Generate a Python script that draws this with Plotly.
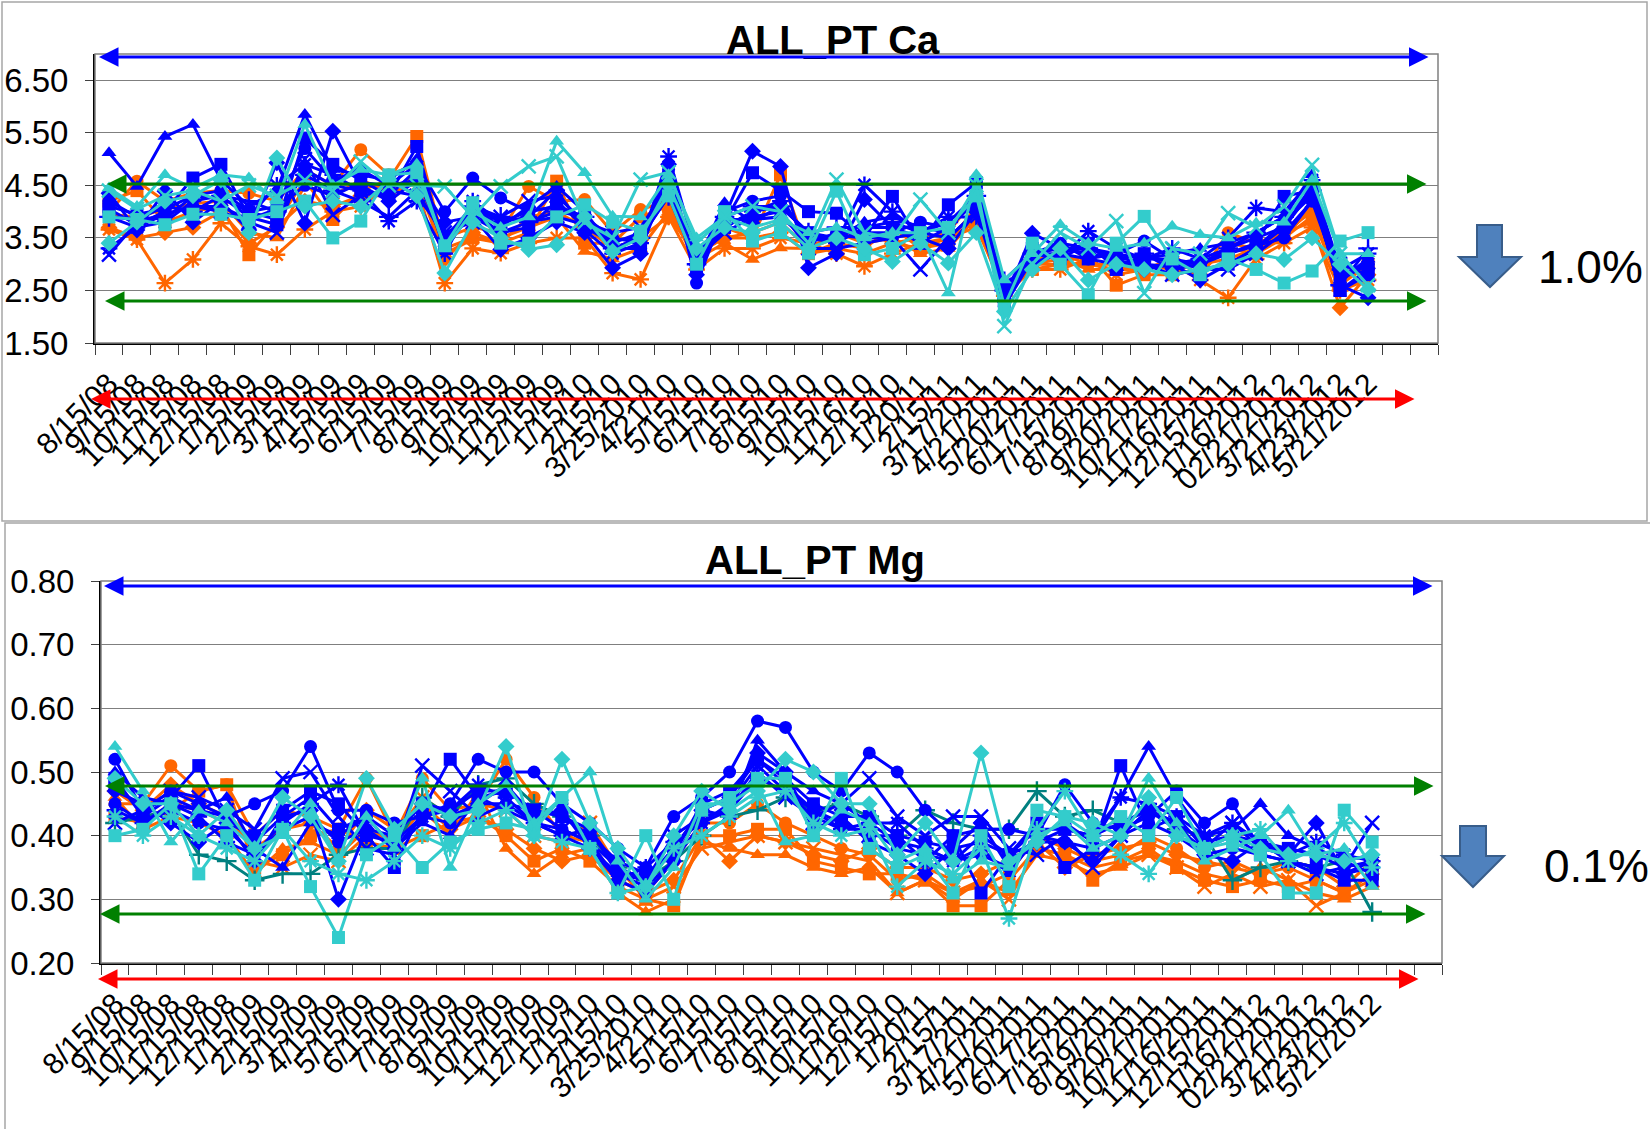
import plotly.graph_objects as go

W, H = 1650, 1129

dates = ["8/15/08", "9/15/08", "10/15/08", "11/15/08", "12/15/08",
         "1/15/09", "2/15/09", "3/15/09", "4/15/09", "5/15/09", "6/15/09",
         "7/15/09", "8/15/09", "9/15/09", "10/15/09", "11/15/09", "12/15/09",
         "1/15/10", "2/15/10", "3/25/2010", "4/21/10", "5/15/10", "6/15/10",
         "7/15/10", "8/15/10", "9/15/10", "10/15/10", "11/16/10", "12/15/10",
         "1/20/11", "2/15/11", "3/17/2011", "4/21/2011", "5/20/2011",
         "6/17/2011", "7/15/2011", "8/19/2011", "9/20/2011", "10/21/2011",
         "11/16/2011", "12/15/2011", "1/16/2012", "02/21/2012", "3/21/2012",
         "4/23/2012", "5/21/2012"]

ca_ticks = [1.5, 2.5, 3.5, 4.5, 5.5, 6.5]
mg_ticks = [0.2, 0.3, 0.4, 0.5, 0.6, 0.7, 0.8]

# ---------------- Ca series ----------------
ca_b_tri = [5.12,4.48,5.43,5.66,4.6,4.1,4.4,5.85,4.8,4.7,4.6,5.0,3.4,4.1,3.7,4.1,4.48,4.0,3.3,3.5,4.5,3.0,4.17,3.8,4.1,3.6,3.5,3.8,3.9,3.7,3.6,4.4,2.4,3.2,3.4,3.3,3.2,3.1,3.2,3.3,3.4,3.6,3.9,4.7,2.7,3.1]
ca_b_sq = [4.05,3.75,4.0,4.64,4.9,3.9,3.75,5.4,4.9,4.6,4.3,5.24,3.3,4.0,3.6,3.7,4.2,3.7,3.4,3.6,4.6,2.9,3.8,4.74,4.4,4.0,3.97,3.5,4.29,3.4,4.13,4.55,2.5,3.3,3.1,3.4,2.9,3.2,2.9,3.0,3.2,3.4,4.29,4.4,2.5,2.9]
ca_b_dia = [4.35,3.65,4.39,3.8,4.2,3.65,4.93,3.78,5.53,4.5,4.2,4.6,3.8,3.9,3.28,3.5,3.8,3.6,2.93,3.2,4.9,2.8,3.9,5.15,4.86,2.93,3.2,4.23,3.7,3.5,3.3,4.0,2.3,3.59,3.3,3.2,3.1,2.9,3.0,2.7,3.0,3.3,3.8,4.3,2.6,2.36]
ca_b_circ = [4.2,3.9,3.85,4.3,4.4,4.0,4.1,5.2,4.6,4.8,4.5,4.9,4.0,4.64,4.26,4.0,4.1,3.9,3.5,3.4,4.8,2.64,4.0,4.2,4.3,3.4,3.6,3.6,3.6,3.8,3.7,4.2,2.2,3.1,3.4,3.1,3.2,3.44,3.1,3.0,3.3,3.5,3.7,4.5,2.8,3.0]
ca_b_x = [3.18,3.8,3.95,4.1,4.0,3.8,3.6,5.0,3.94,4.3,4.4,4.3,3.6,3.8,3.9,4.2,4.3,3.8,3.6,3.7,4.5,3.1,3.6,3.9,4.0,3.3,3.3,3.4,3.5,2.9,3.5,4.0,2.6,3.0,3.2,3.4,3.0,3.0,2.8,2.9,2.9,3.2,3.6,4.2,3.0,2.8]
ca_b_star = [3.3,3.7,3.8,4.2,4.3,3.9,4.5,4.9,4.7,4.4,3.82,4.2,3.2,4.2,3.8,3.9,4.4,3.65,3.2,3.4,5.05,3.2,3.7,4.0,4.2,3.5,3.4,4.51,4.0,3.6,3.9,3.9,2.7,3.2,3.1,3.63,3.3,3.1,3.3,3.1,3.5,4.07,4.0,4.6,2.9,3.2]
ca_b_plus = [3.9,3.85,4.1,4.0,4.3,4.2,4.0,4.7,4.4,4.2,3.9,4.4,3.5,4.1,3.9,3.8,4.0,3.9,3.3,3.5,4.3,3.0,3.9,4.1,4.1,3.6,3.7,3.7,3.8,3.6,3.8,4.3,2.5,3.2,3.3,3.3,3.1,3.2,3.0,3.1,3.3,3.6,3.9,4.4,2.6,3.3]
ca_b_e1 = [4.1,3.95,4.05,4.3,4.25,4.0,3.85,4.8,4.5,4.4,4.3,4.8,3.3,4.1,3.8,4.0,4.1,3.9,3.3,3.3,4.6,3.0,3.7,4.0,4.1,3.6,3.4,3.7,3.7,3.4,3.7,4.2,2.3,3.2,3.2,3.1,3.0,3.1,3.1,2.9,3.0,3.3,3.7,4.4,2.5,2.8]
ca_b_e2 = [3.9,3.7,3.95,4.1,4.1,3.85,4.05,4.5,4.3,4.55,4.5,4.6,3.5,3.9,3.6,3.8,3.9,3.75,3.45,3.5,4.3,3.2,3.85,3.85,3.9,3.45,3.55,3.5,3.5,3.6,3.5,4.0,2.5,3.0,3.25,3.3,3.15,3.0,2.95,3.05,3.2,3.35,3.5,4.2,2.7,3.0]
ca_o_circ = [4.0,4.58,4.2,4.35,4.4,4.35,4.2,4.8,4.5,5.18,4.7,4.9,3.5,3.7,3.6,4.48,4.2,4.23,3.6,4.04,4.2,3.2,3.5,3.6,3.8,3.3,3.5,3.6,3.4,3.5,3.6,4.3,2.5,3.1,3.2,3.0,3.0,3.0,2.9,2.8,3.6,3.4,3.6,4.0,2.7,2.9]
ca_o_sq = [4.2,4.4,3.8,4.0,4.1,3.18,3.8,4.6,3.85,4.4,4.6,5.43,3.3,3.5,3.4,3.6,4.58,3.4,3.4,3.9,4.1,3.0,3.7,3.5,4.7,3.2,3.4,3.3,3.7,3.3,3.4,4.1,2.6,2.9,3.0,3.2,2.6,2.8,2.8,2.9,3.3,3.2,3.5,3.91,2.6,3.0]
ca_o_x = [3.66,3.47,2.64,3.09,3.78,3.34,3.18,3.66,4.0,4.1,4.5,4.5,2.64,3.3,3.21,3.4,3.5,3.5,2.83,2.71,3.9,2.9,3.3,3.3,3.5,3.4,3.2,2.96,3.2,3.4,3.5,3.8,2.4,2.9,2.9,3.1,2.8,2.9,3.0,2.7,2.36,3.1,3.4,3.7,2.5,2.7]
ca_o_tri = [3.95,3.9,4.05,4.15,4.2,3.6,3.5,4.5,4.3,4.6,4.4,4.7,3.2,3.47,3.5,3.7,3.9,3.24,3.1,3.3,4.0,3.1,3.4,3.09,3.31,3.3,3.6,3.4,3.5,3.2,3.3,3.9,2.6,3.0,3.1,2.9,2.9,3.0,2.9,3.0,3.1,3.3,3.5,4.1,2.8,3.0]
ca_o_dia = [3.7,3.5,3.6,3.7,4.0,3.4,3.7,4.2,4.1,4.3,4.3,4.6,3.1,3.6,3.4,3.9,4.0,3.7,3.3,3.5,3.9,3.2,3.5,3.5,3.6,3.2,3.3,3.2,3.4,3.3,3.5,3.7,2.5,3.0,3.0,3.0,2.9,2.9,3.1,2.8,3.4,3.3,3.6,3.8,2.17,2.8]
ca_c_tri = [4.45,4.1,4.7,4.45,4.7,4.64,4.2,5.66,4.5,4.8,4.7,4.9,3.3,4.0,3.7,3.9,5.34,4.74,3.91,3.9,4.7,3.5,3.9,3.7,3.85,3.6,3.7,3.5,3.6,3.6,2.45,4.7,2.7,3.2,3.75,3.4,3.3,3.4,3.72,3.56,3.5,3.78,3.8,4.6,3.2,3.2]
ca_c_sq = [3.9,3.85,3.75,3.95,3.95,3.85,4.0,4.2,3.5,3.82,4.7,4.74,3.35,4.17,3.4,3.4,3.9,4.13,3.8,3.63,4.3,3.0,4.0,3.44,3.6,3.21,4.39,3.18,3.3,3.6,3.7,4.3,2.2,3.4,3.0,2.42,3.4,3.91,3.1,2.8,3.1,2.9,2.64,2.87,3.44,3.6]
ca_c_dia = [3.4,3.8,4.2,4.3,4.6,3.6,5.02,4.1,4.2,4.1,4.6,4.3,2.83,3.8,3.5,3.28,3.37,3.9,3.24,3.5,4.5,3.3,3.7,3.6,3.8,3.3,3.5,3.3,3.05,3.4,3.02,3.6,2.1,2.9,3.3,2.7,3.0,2.9,2.8,2.9,3.0,3.2,3.09,3.5,3.0,2.52]
ca_c_x = [4.4,4.05,4.3,4.4,4.2,4.5,4.3,4.6,4.4,4.95,4.5,4.5,4.48,3.9,4.48,4.86,5.05,3.8,3.5,4.61,4.75,3.4,3.9,4.1,4.0,3.4,4.61,3.6,3.5,4.23,3.6,4.5,1.82,3.0,3.6,3.3,3.82,2.45,3.3,3.2,3.97,3.7,4.1,4.89,3.2,2.6]

# ---------------- Mg series ----------------
mg_b_circ = [0.52,0.44,0.47,0.45,0.43,0.45,0.47,0.54,0.44,0.44,0.42,0.43,0.45,0.52,0.50,0.50,0.45,0.42,0.38,0.35,0.43,0.46,0.50,0.58,0.57,0.50,0.47,0.53,0.50,0.44,0.40,0.41,0.41,0.40,0.48,0.42,0.41,0.43,0.47,0.42,0.45,0.38,0.38,0.37,0.35,0.36]
mg_b_sq = [0.49,0.43,0.46,0.51,0.42,0.40,0.44,0.47,0.45,0.40,0.35,0.44,0.52,0.46,0.47,0.44,0.43,0.40,0.36,0.34,0.37,0.45,0.47,0.52,0.48,0.44,0.42,0.40,0.40,0.36,0.40,0.31,0.37,0.42,0.35,0.38,0.51,0.41,0.43,0.38,0.40,0.37,0.36,0.35,0.33,0.33]
mg_b_tri = [0.50,0.46,0.45,0.44,0.46,0.38,0.35,0.42,0.40,0.43,0.38,0.42,0.40,0.46,0.44,0.42,0.40,0.41,0.34,0.33,0.38,0.44,0.43,0.55,0.50,0.47,0.45,0.42,0.39,0.38,0.36,0.38,0.34,0.40,0.42,0.39,0.46,0.54,0.46,0.40,0.41,0.45,0.40,0.38,0.36,0.37]
mg_b_dia = [0.47,0.45,0.42,0.39,0.42,0.36,0.43,0.44,0.30,0.41,0.40,0.45,0.43,0.45,0.48,0.43,0.44,0.38,0.34,0.32,0.36,0.44,0.46,0.53,0.50,0.41,0.43,0.39,0.37,0.34,0.38,0.42,0.35,0.40,0.39,0.36,0.40,0.44,0.42,0.37,0.36,0.39,0.37,0.42,0.34,0.35]
mg_b_x = [0.42,0.44,0.47,0.46,0.44,0.41,0.49,0.50,0.43,0.38,0.37,0.51,0.47,0.43,0.45,0.44,0.41,0.39,0.35,0.33,0.40,0.43,0.44,0.50,0.46,0.43,0.45,0.49,0.43,0.40,0.43,0.43,0.38,0.37,0.40,0.35,0.40,0.44,0.41,0.38,0.42,0.39,0.36,0.34,0.35,0.42]
mg_b_star = [0.44,0.42,0.45,0.43,0.39,0.37,0.42,0.45,0.48,0.40,0.39,0.43,0.44,0.48,0.46,0.42,0.40,0.38,0.33,0.35,0.39,0.42,0.45,0.51,0.47,0.44,0.41,0.42,0.42,0.38,0.36,0.40,0.37,0.39,0.41,0.40,0.46,0.45,0.43,0.40,0.42,0.38,0.37,0.39,0.37,0.36]
mg_b_e1 = [0.48,0.44,0.46,0.44,0.43,0.39,0.43,0.46,0.41,0.43,0.40,0.45,0.44,0.47,0.47,0.44,0.43,0.41,0.35,0.33,0.38,0.44,0.46,0.52,0.49,0.45,0.43,0.43,0.40,0.39,0.38,0.39,0.37,0.41,0.41,0.40,0.42,0.44,0.42,0.39,0.40,0.39,0.38,0.37,0.36,0.34]
mg_b_e2 = [0.45,0.42,0.44,0.42,0.41,0.37,0.41,0.43,0.39,0.41,0.38,0.43,0.42,0.45,0.45,0.42,0.41,0.39,0.33,0.31,0.36,0.42,0.44,0.49,0.47,0.43,0.41,0.41,0.38,0.37,0.36,0.37,0.35,0.39,0.39,0.38,0.40,0.42,0.40,0.37,0.38,0.37,0.36,0.35,0.34,0.36]
mg_o_circ = [0.45,0.45,0.51,0.47,0.48,0.40,0.44,0.43,0.41,0.49,0.40,0.49,0.44,0.45,0.52,0.46,0.40,0.39,0.33,0.31,0.36,0.42,0.42,0.45,0.42,0.40,0.38,0.37,0.33,0.34,0.31,0.32,0.34,0.40,0.38,0.36,0.37,0.40,0.38,0.35,0.36,0.34,0.35,0.33,0.31,0.34]
mg_o_sq = [0.43,0.42,0.44,0.47,0.48,0.35,0.37,0.40,0.41,0.39,0.38,0.40,0.42,0.43,0.40,0.36,0.38,0.36,0.32,0.30,0.29,0.40,0.40,0.41,0.41,0.36,0.35,0.34,0.34,0.33,0.29,0.29,0.33,0.38,0.37,0.33,0.36,0.38,0.35,0.33,0.32,0.33,0.32,0.33,0.31,0.34]
mg_o_tri = [0.46,0.41,0.43,0.42,0.40,0.34,0.38,0.39,0.37,0.41,0.39,0.44,0.40,0.47,0.38,0.34,0.37,0.38,0.31,0.28,0.30,0.39,0.38,0.37,0.37,0.35,0.34,0.35,0.31,0.33,0.30,0.33,0.31,0.37,0.36,0.34,0.35,0.37,0.36,0.34,0.33,0.35,0.33,0.31,0.30,0.32]
mg_o_x = [0.43,0.42,0.45,0.44,0.42,0.36,0.35,0.37,0.36,0.40,0.40,0.46,0.43,0.45,0.44,0.40,0.39,0.42,0.35,0.30,0.32,0.38,0.39,0.40,0.39,0.38,0.37,0.36,0.31,0.33,0.31,0.33,0.30,0.38,0.37,0.35,0.36,0.37,0.35,0.32,0.34,0.32,0.33,0.29,0.31,0.33]
mg_o_dia = [0.47,0.44,0.48,0.45,0.43,0.38,0.41,0.42,0.38,0.44,0.41,0.45,0.41,0.43,0.41,0.38,0.36,0.37,0.33,0.31,0.33,0.40,0.36,0.40,0.39,0.37,0.36,0.38,0.35,0.35,0.33,0.34,0.36,0.39,0.35,0.37,0.38,0.39,0.37,0.36,0.35,0.34,0.36,0.35,0.32,0.36]
mg_c_tri = [0.54,0.47,0.39,0.44,0.42,0.38,0.40,0.45,0.36,0.43,0.38,0.49,0.35,0.45,0.48,0.42,0.46,0.50,0.36,0.30,0.35,0.45,0.45,0.48,0.39,0.40,0.44,0.42,0.36,0.38,0.33,0.36,0.35,0.40,0.42,0.38,0.40,0.49,0.42,0.36,0.38,0.40,0.44,0.37,0.38,0.32]
mg_c_sq = [0.40,0.41,0.45,0.34,0.40,0.33,0.41,0.32,0.24,0.37,0.40,0.35,0.39,0.41,0.42,0.41,0.46,0.38,0.31,0.40,0.30,0.44,0.46,0.49,0.49,0.40,0.49,0.38,0.35,0.37,0.31,0.40,0.32,0.44,0.43,0.40,0.43,0.40,0.46,0.38,0.39,0.37,0.31,0.31,0.44,0.39]
mg_c_dia = [0.49,0.45,0.45,0.40,0.44,0.38,0.46,0.43,0.36,0.49,0.41,0.45,0.43,0.44,0.54,0.40,0.52,0.42,0.38,0.32,0.40,0.47,0.44,0.47,0.52,0.50,0.45,0.45,0.37,0.42,0.36,0.53,0.36,0.39,0.43,0.42,0.40,0.46,0.40,0.38,0.40,0.38,0.37,0.37,0.36,0.37]
mg_c_x = [0.43,0.40,0.43,0.40,0.38,0.36,0.41,0.36,0.34,0.33,0.36,0.40,0.38,0.42,0.44,0.40,0.39,0.38,0.31,0.32,0.38,0.40,0.43,0.46,0.47,0.42,0.40,0.41,0.32,0.36,0.34,0.38,0.27,0.41,0.47,0.40,0.37,0.34,0.40,0.38,0.40,0.41,0.36,0.38,0.42,0.35]
mg_t_plus = [0.42,0.43,0.44,0.37,0.36,0.33,0.34,0.34,0.37,0.38,0.38,0.46,0.43,0.48,0.49,0.45,0.43,0.40,0.35,0.33,0.36,0.40,0.43,0.44,0.46,0.44,0.45,0.43,0.40,0.44,0.42,0.41,0.41,0.47,0.43,0.44,0.42,0.44,0.41,0.40,0.33,0.35,0.36,0.35,0.36,0.28]

BLUE, ORANGE, CYAN, TEAL = "#0000FF", "#FF6600", "#33CCCC", "#008080"

ca_series = [
    (ca_o_circ, ORANGE, "circle"), (ca_o_sq, ORANGE, "square"),
    (ca_o_x, ORANGE, "asterisk-open"), (ca_o_tri, ORANGE, "triangle-up"),
    (ca_o_dia, ORANGE, "diamond"),
    (ca_b_e1, BLUE, "square"), (ca_b_e2, BLUE, "circle"),
    (ca_b_tri, BLUE, "triangle-up"), (ca_b_sq, BLUE, "square"),
    (ca_b_dia, BLUE, "diamond"), (ca_b_circ, BLUE, "circle"),
    (ca_b_x, BLUE, "x-thin-open"), (ca_b_star, BLUE, "asterisk-open"),
    (ca_b_plus, BLUE, "cross-thin-open"),
    (ca_c_tri, CYAN, "triangle-up"), (ca_c_sq, CYAN, "square"),
    (ca_c_dia, CYAN, "diamond"), (ca_c_x, CYAN, "x-thin-open"),
]
mg_series = [
    (mg_o_circ, ORANGE, "circle"), (mg_o_sq, ORANGE, "square"),
    (mg_o_tri, ORANGE, "triangle-up"), (mg_o_x, ORANGE, "x-thin-open"),
    (mg_o_dia, ORANGE, "diamond"),
    (mg_t_plus, TEAL, "cross-thin-open"),
    (mg_b_e1, BLUE, "square"), (mg_b_e2, BLUE, "circle"),
    (mg_b_circ, BLUE, "circle"), (mg_b_sq, BLUE, "square"),
    (mg_b_tri, BLUE, "triangle-up"), (mg_b_dia, BLUE, "diamond"),
    (mg_b_x, BLUE, "x-thin-open"), (mg_b_star, BLUE, "asterisk-open"),
    (mg_c_tri, CYAN, "triangle-up"), (mg_c_sq, CYAN, "square"),
    (mg_c_dia, CYAN, "diamond"), (mg_c_x, CYAN, "asterisk-open"),
]

xs = list(range(len(dates)))
fig = go.Figure()


def add(series, xa, ya):
    for vals, col, sym in series:
        thin = "open" in sym
        fig.add_trace(go.Scatter(
            x=xs, y=vals, xaxis=xa, yaxis=ya, mode="lines+markers",
            line=dict(color=col, width=3),
            marker=dict(symbol=sym, size=14 if thin else 13, color=col,
                        line=dict(color=col, width=2.4 if thin else 0)),
            showlegend=False, hoverinfo="skip"))


add(ca_series, "x", "y")
add(mg_series, "x2", "y2")

FONT = "Arial, Liberation Sans, sans-serif"


def px(x):
    return x / W


def py(y):
    return 1 - y / H


xcommon = dict(range=[-0.5, 47.5], tickmode="array", tickvals=xs,
               ticktext=dates, tickangle=-45, automargin=False,
               tickfont=dict(family=FONT, size=30, color="black"),
               ticklabelstandoff=9,
               ticks="", showline=True, linecolor="black", linewidth=2,
               showgrid=False, zeroline=False,
               minor=dict(tickvals=[k - 0.5 for k in range(49)],
                          ticks="outside", ticklen=10, tickcolor="#404040",
                          tickwidth=1, showgrid=False))
ycommon = dict(tickformat=".2f", ticks="outside", ticklen=8,
               tickcolor="#404040", showline=True, linecolor="black",
               linewidth=2, gridcolor="#7F7F7F", gridwidth=1.2,
               zeroline=False, automargin=False, ticklabelstandoff=10,
               tickfont=dict(family=FONT, size=33, color="black"))

fig.update_layout(
    width=W, height=H, margin=dict(l=0, r=0, t=0, b=0, autoexpand=False),
    paper_bgcolor="white", plot_bgcolor="white",
    xaxis=dict(domain=[px(95), px(1438)], anchor="y", **xcommon),
    yaxis=dict(domain=[py(343), py(54)], anchor="x", range=[1.5, 7.0],
               tickvals=ca_ticks, **ycommon),
    xaxis2=dict(domain=[px(101), px(1442)], anchor="y2", **xcommon),
    yaxis2=dict(domain=[py(963), py(581)], anchor="x2", range=[0.2, 0.8],
                tickvals=mg_ticks, **ycommon),
)

shapes = []
# outer chart frames
shapes.append(dict(type="rect", xref="paper", yref="paper",
                   x0=px(2), x1=px(1647), y0=py(521), y1=py(2),
                   line=dict(color="#A6A6A6", width=1.5)))
shapes.append(dict(type="rect", xref="paper", yref="paper",
                   x0=px(5), x1=px(1680), y0=py(1160), y1=py(523),
                   line=dict(color="#A6A6A6", width=1.5)))
# plot-area borders
for xr, yr in (("x", "y"), ("x2", "y2")):
    shapes.append(dict(type="rect", xref=xr + " domain", yref=yr + " domain",
                       x0=0, x1=1, y0=0, y1=1,
                       line=dict(color="#808080", width=1.5)))


# block down arrows
def down_arrow(xl, xr, sl, sr, ytop, yhead, ytip):
    xm = (xl + xr) / 2
    pts = [(sl, ytop), (sr, ytop), (sr, yhead), (xr, yhead), (xm, ytip),
           (xl, yhead), (sl, yhead)]
    path = "M " + " L ".join(f"{px(a):.5f},{py(b):.5f}" for a, b in pts) + " Z"
    return dict(type="path", xref="paper", yref="paper", path=path,
                fillcolor="#4F81BD", line=dict(color="#385D8A", width=2))


shapes.append(down_arrow(1459, 1521, 1477, 1502, 225, 257, 287))
shapes.append(down_arrow(1442, 1504, 1460, 1486, 826, 856, 887))
fig.update_layout(shapes=shapes)


def label(text, x, y, size):
    return dict(text=text, x=px(x), y=py(y), xref="paper", yref="paper",
                xanchor="center", yanchor="middle", showarrow=False,
                font=dict(family=FONT, size=size, color="black"))


ann = [label("<b>ALL_PT Ca</b>", 833, 40, 40),
       label("<b>ALL_PT Mg</b>", 815, 560, 40),
       label("1.0%", 1590, 267, 46),
       label("0.1%", 1596, 866, 46)]


def harrow(x0, x1, y, color):
    return dict(text="", x=px(x0), y=py(y), xref="paper", yref="paper",
                ax=x1 - x0, ay=0, axref="pixel", ayref="pixel",
                showarrow=True, arrowhead=2, arrowside="end+start",
                arrowsize=1.3, arrowwidth=3, arrowcolor=color,
                standoff=0, startstandoff=0)


GREEN, RED = "#008000", "#FF0000"
ann += [harrow(99, 1430, 57, BLUE), harrow(107, 1428, 184, GREEN),
        harrow(105, 1428, 301, GREEN), harrow(91, 1416, 399, RED),
        harrow(104, 1434, 586, BLUE), harrow(105, 1435, 786, GREEN),
        harrow(100, 1427, 914, GREEN), harrow(98, 1420, 979, RED)]
fig.update_layout(annotations=ann)

fig.write_html("out.html", config={"displayModeBar": False},
               post_script="document.body.style.margin='0';"
                           "document.body.style.overflow='hidden';")
